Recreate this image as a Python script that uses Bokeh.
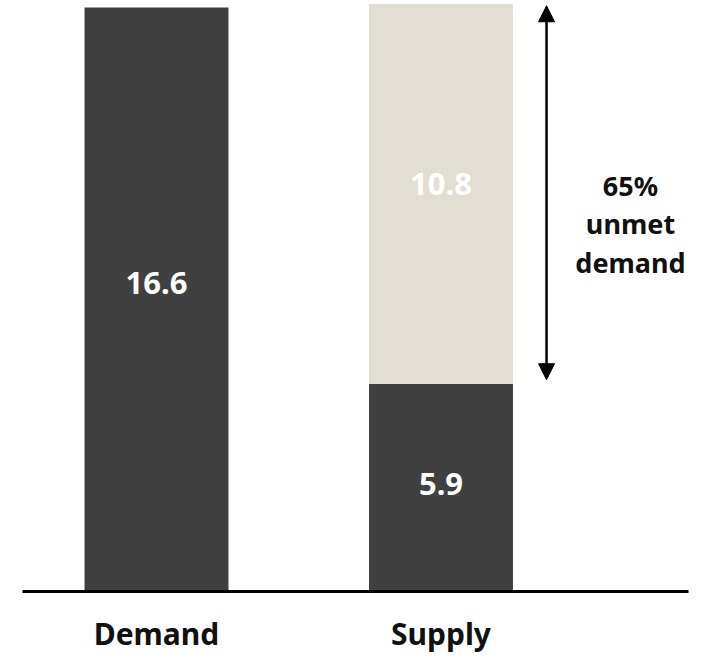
from bokeh.plotting import figure
from bokeh.models import ColumnDataSource, Range1d, FixedTicker, Arrow, NormalHead
from bokeh.core.properties import value
from bokeh.embed import file_html
from bokeh.resources import INLINE

# ---- data ----
categories = ["Demand", "Supply"]
met = [16.6, 5.9]          # dark segment
unmet = [0.0, 10.8]        # light segment
unmet_share_label = "65%\nunmet\ndemand"

DARK = "#404040"
LIGHT = "#E2DED3"
FONT = "Noto Sans"

xs = list(range(len(categories)))
tops_met = met
tops_all = [m + u for m, u in zip(met, unmet)]

p = figure(width=711, height=656, output_backend="svg", toolbar_location=None,
           x_range=Range1d(-0.471, 1.870), y_range=Range1d(0, 16.8),
           y_axis_location=None, min_border_left=22, min_border_right=23,
           min_border_top=0, min_border_bottom=62)
p.outline_line_color = None
p.xgrid.visible = False
p.ygrid.visible = False
p.background_fill_color = "white"
p.border_fill_color = "white"

bw = 0.506
src_met = ColumnDataSource(dict(x=xs, bottom=[0] * len(xs), top=tops_met))
p.vbar(x="x", bottom="bottom", top="top", width=bw, source=src_met,
       fill_color=DARK, line_color=None)
src_un = ColumnDataSource(dict(x=[x for x, u in zip(xs, unmet) if u > 0],
                               bottom=[m for m, u in zip(met, unmet) if u > 0],
                               top=[m + u for m, u in zip(met, unmet) if u > 0]))
p.vbar(x="x", bottom="bottom", top="top", width=bw, source=src_un,
       fill_color=LIGHT, line_color=None)

# value labels
lab_x, lab_y, lab_t, lab_off = [], [], [], []
for x, m, u in zip(xs, met, unmet):
    lab_x.append(x); lab_y.append(m / 2); lab_t.append(f"{m:.1f}")
    lab_off.append(-17 if u == 0 else -4)
    if u > 0:
        lab_x.append(x); lab_y.append(m + u / 2); lab_t.append(f"{u:.1f}")
        lab_off.append(-10)
src_lab = ColumnDataSource(dict(x=lab_x, y=lab_y, t=lab_t, yo=lab_off))
p.text(x="x", y="y", text="t", y_offset="yo", source=src_lab, text_align="center",
       text_baseline="middle", text_color="white", text_font=value(FONT),
       text_font_style="bold", text_font_size="31px")

# arrow showing unmet demand
sx = xs[1]
ax = sx + 0.371
p.add_layout(Arrow(x_start=ax, y_start=tops_met[1] + 0.12, x_end=ax, y_end=tops_all[1] - 0.05,
                   line_color="black", line_width=2.5,
                   start=NormalHead(size=16, fill_color="black", line_color="black"),
                   end=NormalHead(size=16, fill_color="black", line_color="black")))

src_ann = ColumnDataSource(dict(x=[sx + 0.666], y=[10.45], t=[unmet_share_label]))
p.text(x="x", y="y", text="t", source=src_ann, text_align="center",
       text_baseline="middle", text_color="#111111", text_font=value(FONT),
       text_font_style="bold", text_font_size="27px", text_line_height=1.05)

# x axis as baseline with category labels
ax_ = p.xaxis[0]
ax_.ticker = FixedTicker(ticks=xs)
ax_.major_label_overrides = {x: c for x, c in zip(xs, categories)}
ax_.axis_line_color = "black"
ax_.axis_line_width = 3
ax_.major_tick_line_color = None
ax_.minor_tick_line_color = None
ax_.major_tick_out = 0
ax_.major_tick_in = 0
ax_.major_label_standoff = 21
ax_.major_label_text_font = FONT
ax_.major_label_text_font_style = "bold"
ax_.major_label_text_font_size = "30px"
ax_.major_label_text_color = "#111111"

open("out.html", "w").write(file_html(p, INLINE))
